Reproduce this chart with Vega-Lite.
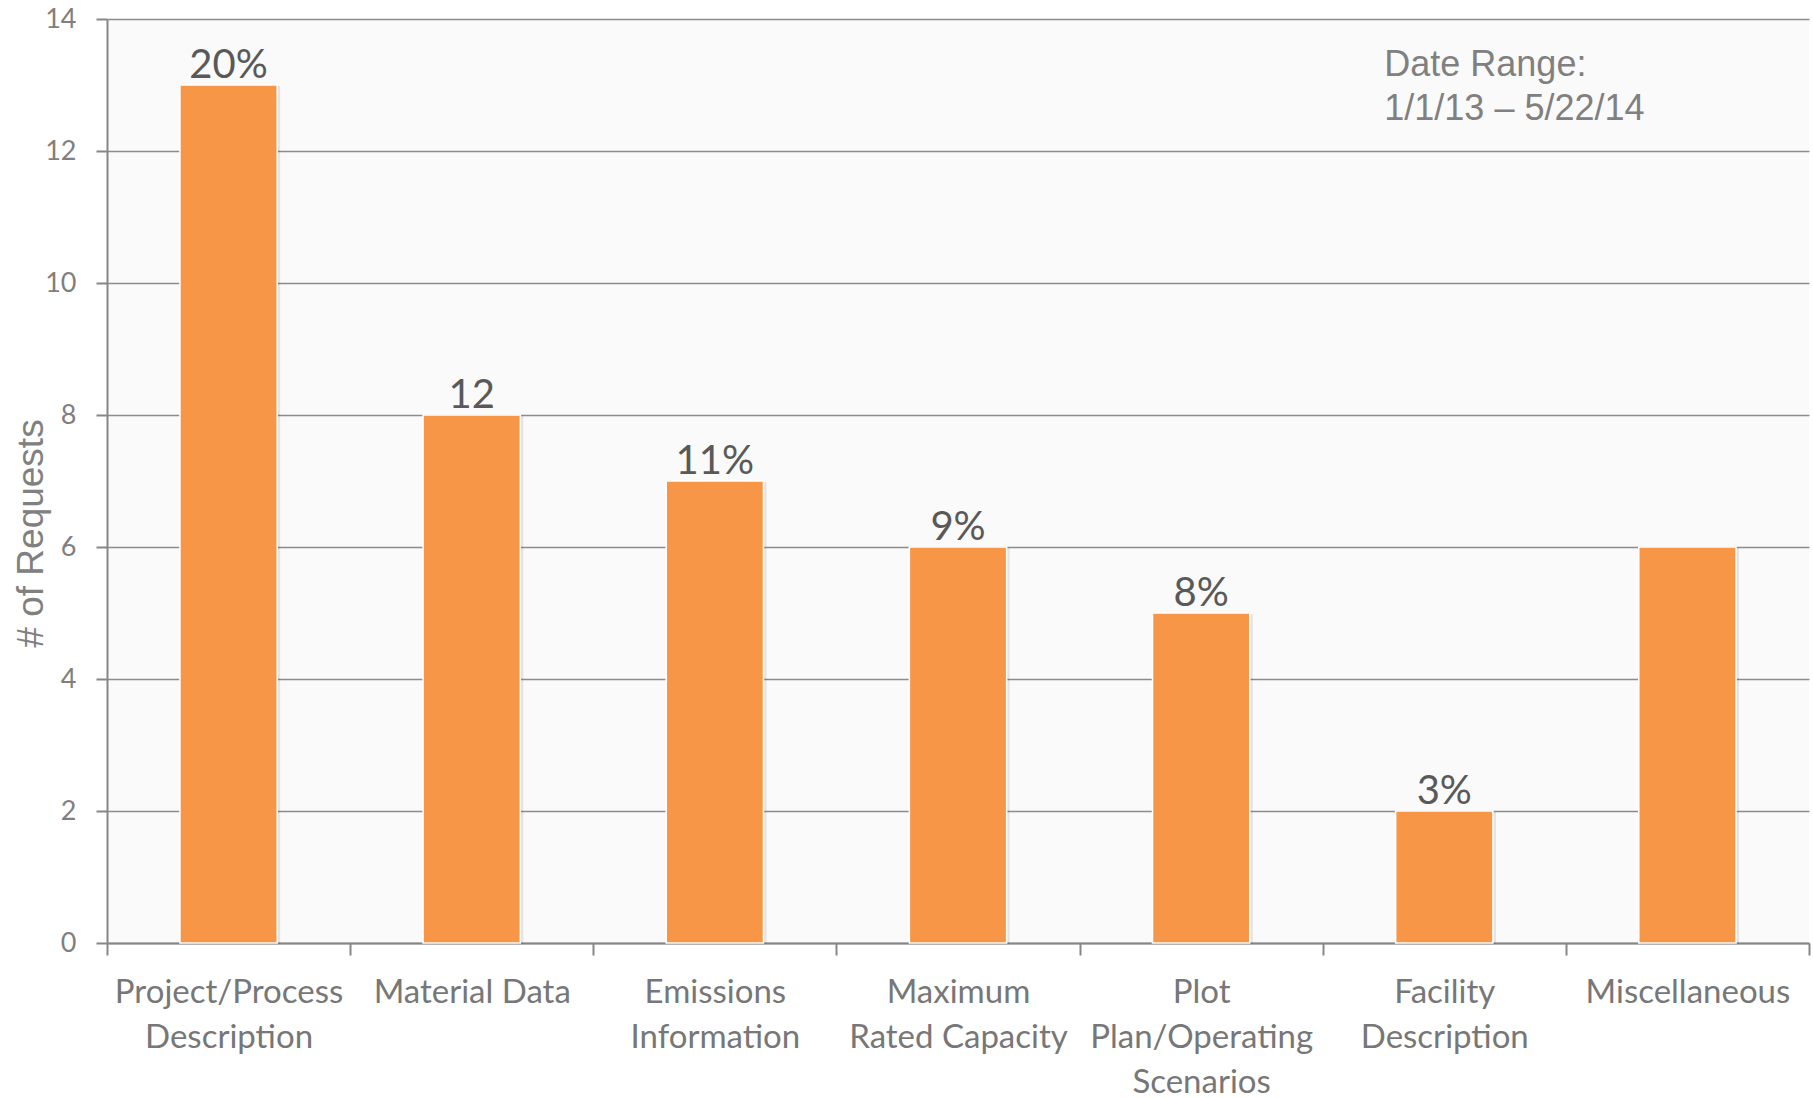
{
  "$schema": "https://vega.github.io/schema/vega-lite/v6.json",
  "autosize": {"type": "none"},
  "width": 1702,
  "height": 924,
  "padding": {"left": 107, "top": 19, "right": 4, "bottom": 155},
  "background": "#FFFFFF",
  "view": {"fill": "#FAFAFA", "stroke": null},
  "datasets": {
    "requests": [
      {"category": "Project/Process Description", "count": 13, "label": "20%"},
      {"category": "Material Data", "count": 8, "label": "12"},
      {"category": "Emissions Information", "count": 7, "label": "11%"},
      {"category": "Maximum Rated Capacity", "count": 6, "label": "9%"},
      {"category": "Plot Plan/Operating Scenarios", "count": 5, "label": "8%"},
      {"category": "Facility Description", "count": 2, "label": "3%"},
      {"category": "Miscellaneous", "count": 6, "label": ""}
    ],
    "note": [
      {"category": "Facility Description", "y": 13.14, "text": "Date Range:"},
      {"category": "Facility Description", "y": 12.47, "text": "1/1/13 – 5/22/14"}
    ]
  },
  "encoding": {
    "x": {
      "field": "category",
      "type": "nominal",
      "sort": null,
      "scale": {"paddingInner": 0, "paddingOuter": 0},
      "axis": {
        "title": null,
        "labelAngle": 0,
        "tickBand": "extent",
        "tickSize": 12,
        "tickWidth": 2,
        "tickColor": "#868686",
        "domainColor": "#868686",
        "domainWidth": 2,
        "labelFont": "Lato",
        "labelFontSize": 33,
        "labelColor": "#777777",
        "labelLineHeight": 45,
        "labelPadding": 21,
        "labelLimit": 400,
        "labelExpr": "datum.value == 'Project/Process Description' ? ['Project/Process', 'Description'] : datum.value == 'Emissions Information' ? ['Emissions', 'Information'] : datum.value == 'Maximum Rated Capacity' ? ['Maximum', 'Rated Capacity'] : datum.value == 'Plot Plan/Operating Scenarios' ? ['Plot', 'Plan/Operating', 'Scenarios'] : datum.value == 'Facility Description' ? ['Facility', 'Description'] : datum.label"
      }
    }
  },
  "layer": [
    {
      "data": {"name": "requests"},
      "mark": {"type": "bar", "width": {"band": 0.4}, "fill": "#000000", "opacity": 0.09, "xOffset": 3, "yOffset": 1},
      "encoding": {
        "y": {
          "field": "count",
          "type": "quantitative",
          "scale": {"domain": [0, 14], "nice": false},
          "axis": {
            "title": "# of Requests",
            "titleFont": "Liberation Sans",
            "titleFontSize": 37,
            "titleFontWeight": "normal",
            "titleColor": "#808080",
            "titleBaseline": "alphabetic",
            "titleX": -65,
            "titleY": 514,
            "values": [0, 2, 4, 6, 8, 10, 12, 14],
            "format": "d",
            "grid": true,
            "gridColor": "#8C8C8C",
            "gridWidth": 1.5,
            "domainColor": "#868686",
            "domainWidth": 2,
            "tickColor": "#868686",
            "tickWidth": 2,
            "tickSize": 11,
            "labelFont": "Lato",
            "labelFontSize": 27,
            "labelColor": "#7F7F7F",
            "labelPadding": 20
          }
        }
      }
    },
    {
      "data": {"name": "requests"},
      "mark": {"type": "bar", "width": {"band": 0.4}, "fill": "#F79646", "stroke": "#FFFFFF", "strokeWidth": 1.5},
      "encoding": {
        "y": {"field": "count", "type": "quantitative"}
      }
    },
    {
      "data": {"name": "requests"},
      "mark": {"type": "text", "font": "Lato", "fontSize": 40, "color": "#595959", "baseline": "alphabetic", "align": "center", "dy": -7},
      "encoding": {
        "y": {"field": "count", "type": "quantitative"},
        "text": {"field": "label"}
      }
    },
    {
      "data": {"name": "note"},
      "mark": {"type": "text", "font": "Liberation Sans", "fontSize": 36, "color": "#808080", "baseline": "alphabetic", "align": "left", "dx": -60},
      "encoding": {
        "y": {"field": "y", "type": "quantitative"},
        "text": {"field": "text"}
      }
    }
  ]
}
